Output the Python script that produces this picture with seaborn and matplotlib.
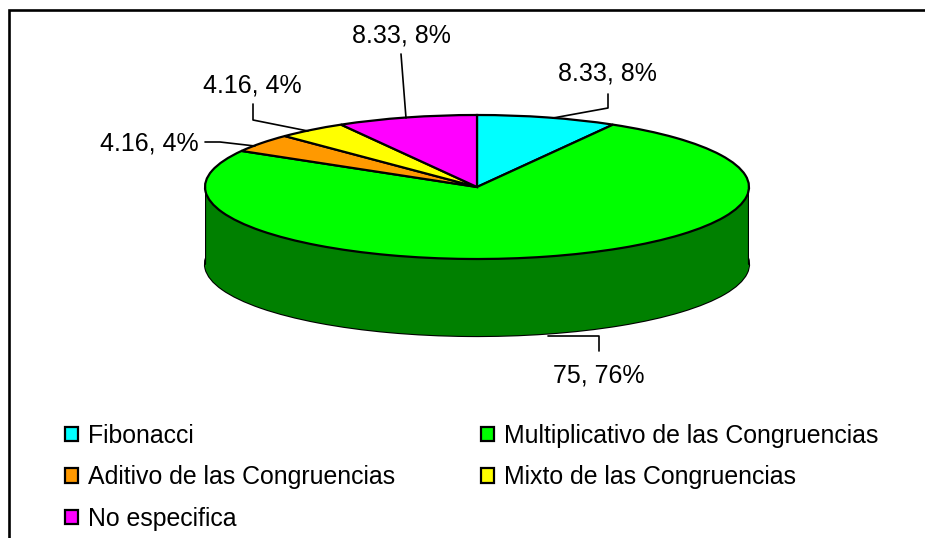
import matplotlib
matplotlib.use("Agg")
import matplotlib.pyplot as plt
from matplotlib.patches import Patch
import numpy as np
import seaborn as sns

categories = ["Fibonacci", "Multiplicativo de las Congruencias",
              "Aditivo de las Congruencias", "Mixto de las Congruencias", "No especifica"]
values = [8.33, 75, 4.16, 4.16, 8.33]
labels = ["8.33, 8%", "75, 76%", "4.16, 4%", "4.16, 4%", "8.33, 8%"]
top_colors = ["#00FFFF", "#00FF00", "#FF9900", "#FFFF00", "#FF00FF"]
side_colors = ["#008080", "#008000", "#804C00", "#808000", "#800080"]

sns.set_theme(style="white")
plt.rcParams["font.family"] = ["Liberation Sans", "DejaVu Sans"]
W, H = 925, 538
fig = plt.figure(figsize=(W / 100, H / 100), dpi=100, facecolor="white")

ov = fig.add_axes([0, 0, 1, 1], zorder=3)
ov.set_xlim(0, W); ov.set_ylim(H, 0); ov.axis("off"); ov.patch.set_alpha(0)

cx, cy, rx, ry, depth = 477, 187, 272, 72, 77
ax = fig.add_axes([(cx - rx) / W, 1 - (cy + ry + depth) / H, 2 * rx / W, (2 * ry + depth) / H], zorder=2)
d = depth / ry
kw = dict(startangle=90, counterclock=False, radius=1)
ax.pie(values, colors=side_colors, center=(0, -d), wedgeprops=dict(edgecolor="black", linewidth=1.6), **kw)
for k in np.linspace(d, 0.01, 60):
    ax.pie(values, colors=side_colors, center=(0, -k), wedgeprops=dict(linewidth=0), **kw)
ax.plot([-1, -1], [0, -d], color="black", lw=1.6)
ax.plot([1, 1], [0, -d], color="black", lw=1.6)
ax.pie(values, colors=top_colors, center=(0, 0), wedgeprops=dict(edgecolor="black", linewidth=1.6), **kw)
ax.set_aspect("auto")
ax.set_xlim(-1, 1); ax.set_ylim(-1 - d, 1); ax.axis("off")

ov.plot([9, 9, 925], [H, 10, 10], color="black", lw=1.9, clip_on=False, solid_joinstyle="miter")

fs = 18
texts = [(558, 73, labels[0]), (553, 375, labels[1]),
         (100, 144, labels[2]), (203, 86, labels[3]), (352, 36, labels[4])]
for x, y, s in texts:
    ov.text(x, y, s, ha="left", va="center", fontsize=fs, color="black")

leaders = [([608, 608, 553], [94, 108, 118]),
           ([599, 599, 548], [351, 336, 336]),
           ([205, 220, 255], [142, 142, 146]),
           ([253, 253, 308], [104, 120, 131]),
           ([401, 406], [54, 118])]
for xs, ys in leaders:
    ov.plot(xs, ys, color="black", lw=1.2)

order = [0, 2, 4, 1, 3]
handles = [Patch(facecolor=top_colors[i], edgecolor="black", linewidth=1.6) for i in order]
leg = ov.legend(handles, [categories[i] for i in order], ncols=2, frameon=False,
          loc="upper left", bbox_to_anchor=(65 / W, 1 - 424 / H), borderaxespad=0, borderpad=0,
          fontsize=17.95, handlelength=0.52, handleheight=0.52, handletextpad=0.4,
          columnspacing=3.45, labelspacing=0.7)
for t in leg.get_texts():
    t.set_color("black")
fig.savefig("out.png", dpi=100)
